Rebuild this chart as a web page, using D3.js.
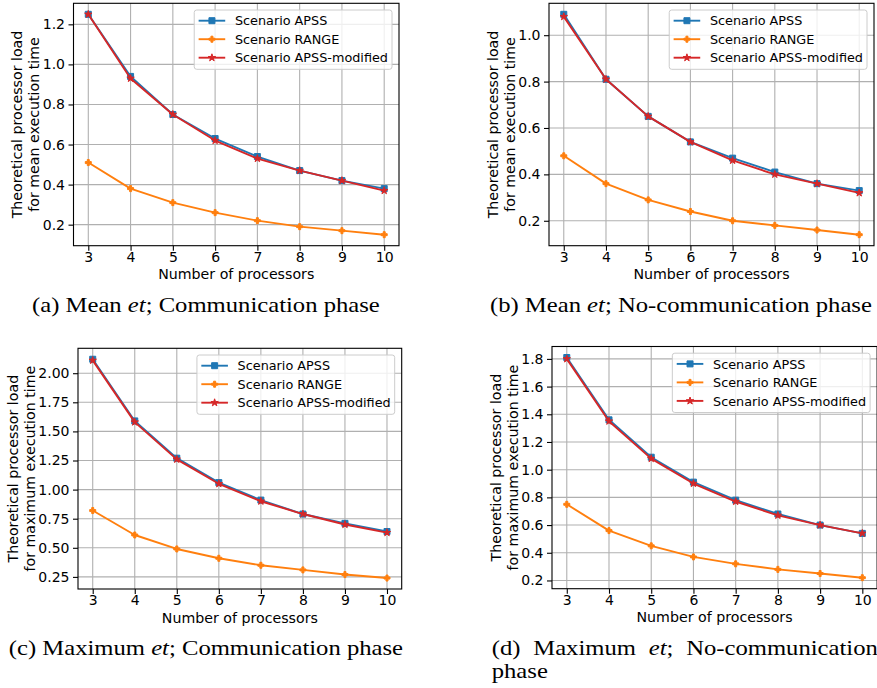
<!DOCTYPE html>
<html><head><meta charset="utf-8">
<script src="https://cdn.jsdelivr.net/npm/d3@7"></script>
<style>
body{margin:0;background:#fff}
svg{display:block}
.sans{font-family:"DejaVu Sans",sans-serif;fill:#000}
.serif{font-family:"Liberation Serif","DejaVu Serif",serif;fill:#000}
</style>
</head><body><svg id="c" width="877" height="688"></svg>
<script>
// ---------------- data ----------------
const processors = [3, 4, 5, 6, 7, 8, 9, 10];
const seriesNames = ["Scenario APSS", "Scenario RANGE", "Scenario APSS-modified"];

const meanCommAPSS     = [1.25, 0.94, 0.75, 0.63, 0.54, 0.47, 0.42, 0.38];
const meanCommRANGE    = [0.51, 0.38, 0.31, 0.26, 0.22, 0.19, 0.17, 0.15];
const meanCommModified = [1.25, 0.93, 0.75, 0.62, 0.53, 0.47, 0.42, 0.37];

const meanNoCommAPSS     = [1.09, 0.81, 0.65, 0.54, 0.47, 0.41, 0.36, 0.33];
const meanNoCommRANGE    = [0.48, 0.36, 0.29, 0.24, 0.20, 0.18, 0.16, 0.14];
const meanNoCommModified = [1.08, 0.81, 0.65, 0.54, 0.46, 0.40, 0.36, 0.32];

const maxCommAPSS     = [2.12, 1.59, 1.27, 1.06, 0.91, 0.79, 0.71, 0.64];
const maxCommRANGE    = [0.82, 0.61, 0.49, 0.41, 0.35, 0.31, 0.27, 0.24];
const maxCommModified = [2.11, 1.58, 1.26, 1.05, 0.90, 0.79, 0.70, 0.63];

const maxNoCommAPSS     = [1.81, 1.36, 1.09, 0.91, 0.78, 0.68, 0.60, 0.54];
const maxNoCommRANGE    = [0.75, 0.56, 0.45, 0.37, 0.32, 0.28, 0.25, 0.22];
const maxNoCommModified = [1.80, 1.35, 1.08, 0.90, 0.77, 0.67, 0.60, 0.54];

const yTicksA = [0.2, 0.4, 0.6, 0.8, 1.0, 1.2];
const yTicksB = [0.2, 0.4, 0.6, 0.8, 1.0];
const yTicksC = [0.25, 0.50, 0.75, 1.00, 1.25, 1.50, 1.75, 2.00];
const yTicksD = [0.2, 0.4, 0.6, 0.8, 1.0, 1.2, 1.4, 1.6, 1.8];

const xLabel = "Number of processors";
const yLabelLine1 = "Theoretical processor load";
const yLabelMean = "for mean execution time";
const yLabelMax = "for maximum execution time";

// ---------------- style / layout ----------------
const colors = ["#1f77b4", "#ff7f0e", "#d62728"];
const symbols = [
  d3.symbol().type(d3.symbolSquare).size(36),
  d3.symbol().type(d3.symbolCross).size(20),
  d3.symbol().type(d3.symbolStar).size(17)
];

const panels = [
  {series:[meanCommAPSS, meanCommRANGE, meanCommModified], yTicks:yTicksA, fmt:d3.format(".1f"),
   yl2:yLabelMean, box:{l:73.5, r:399, t:3.3, b:245.7},
   caption:[["(a) Mean ",false],["et",true],["; Communication phase",false]], cx:205.9, cy:311.5},
  {series:[meanNoCommAPSS, meanNoCommRANGE, meanNoCommModified], yTicks:yTicksB, fmt:d3.format(".1f"),
   yl2:yLabelMean, box:{l:549, r:874, t:3.3, b:245.7},
   caption:[["(b) Mean ",false],["et",true],["; No-communication phase",false]], cx:680.9, cy:311.5},
  {series:[maxCommAPSS, maxCommRANGE, maxCommModified], yTicks:yTicksC, fmt:d3.format(".2f"),
   yl2:yLabelMax, box:{l:78, r:401.7, t:348.3, b:589},
   caption:[["(c) Maximum ",false],["et",true],["; Communication phase",false]], cx:205.9, cy:655},
  {series:[maxNoCommAPSS, maxNoCommRANGE, maxNoCommModified], yTicks:yTicksD, fmt:d3.format(".1f"),
   yl2:yLabelMax, box:{l:552, r:877.1, t:346.5, b:588.7},
   justified:{x0:491.7, x1:878, y:655, words:[[["(d)",false]],[["Maximum",false]],[["et",true],[";",false]],[["No-communication",false]]], line2:"phase", y2:678.3}}
];

const svg = d3.select("#c");
const TICK_FS = 14, LABEL_FS = 14.2, LEG_FS = 12.8, CAP_FS = 20;

panels.forEach((p) => {
  const {l, r, t, b} = p.box;
  const g = svg.append("g");
  const x = d3.scaleLinear()
    .domain([processors[0] - 0.35, processors[processors.length - 1] + 0.35])
    .range([l, r]);
  const all = p.series.flat();
  const [mn, mx] = d3.extent(all);
  const pad = (mx - mn) * 0.05;
  const y = d3.scaleLinear().domain([mn - pad, mx + pad]).range([b, t]);

  // grid
  const grid = g.append("g").attr("stroke", "#b0b0b0").attr("stroke-width", 1.1);
  processors.forEach(v => grid.append("line").attr("x1", x(v)).attr("x2", x(v)).attr("y1", t).attr("y2", b));
  p.yTicks.forEach(v => grid.append("line").attr("x1", l).attr("x2", r).attr("y1", y(v)).attr("y2", y(v)));

  // series
  p.series.forEach((vals, i) => {
    const pts = vals.map((v, j) => [x(processors[j]), y(v)]);
    g.append("path").attr("d", d3.line()(pts)).attr("fill", "none")
      .attr("stroke", colors[i]).attr("stroke-width", 1.9).attr("stroke-linejoin", "round");
    g.append("g").selectAll("path").data(pts).join("path")
      .attr("transform", d => `translate(${d[0]},${d[1]})`)
      .attr("d", symbols[i]()).attr("fill", colors[i]).attr("stroke", colors[i]).attr("stroke-width", 1);
  });

  // spines
  g.append("rect").attr("x", l).attr("y", t).attr("width", r - l).attr("height", b - t)
    .attr("fill", "none").attr("stroke", "#000").attr("stroke-width", 1.1);

  // axes
  const xa = g.append("g").attr("transform", `translate(0,${b})`)
    .call(d3.axisBottom(x).tickValues(processors).tickFormat(d3.format("d")).tickSize(5).tickPadding(1.5));
  const ya = g.append("g").attr("transform", `translate(${l},0)`)
    .call(d3.axisLeft(y).tickValues(p.yTicks).tickFormat(p.fmt).tickSize(5).tickPadding(3.5));
  [xa, ya].forEach(a => {
    a.select(".domain").remove();
    a.selectAll("line").attr("stroke", "#000").attr("stroke-width", 1.1);
    a.selectAll("text").attr("class", "sans").attr("font-size", TICK_FS).attr("font-family", null).attr("fill", "#000");
  });

  // x label
  g.append("text").attr("class", "sans").attr("font-size", LABEL_FS)
    .attr("text-anchor", "middle").attr("x", (l + r) / 2).attr("y", b + 33.5).text(xLabel);

  // y label (two lines)
  const bb = ya.node().getBBox();
  const base2 = l + bb.x - 3.5;
  const cyL = (t + b) / 2;
  [[yLabelLine1, base2 - 17], [p.yl2, base2]].forEach(([txt, bx]) => {
    g.append("text").attr("class", "sans").attr("font-size", LABEL_FS).attr("text-anchor", "middle")
      .attr("transform", `translate(${bx},${cyL}) rotate(-90)`).text(txt);
  });

  // legend
  const lg = g.append("g");
  const tmp = lg.append("text").attr("class", "sans").attr("font-size", LEG_FS).text(seriesNames[2]);
  const tw = tmp.node().getComputedTextLength(); tmp.remove();
  const lw = tw + 40.7 + 4, lh = 59.3;
  const lx = r - 7 - lw, ly = t + 6.7;
  lg.append("rect").attr("x", lx).attr("y", ly).attr("width", lw).attr("height", lh).attr("rx", 2.5)
    .attr("fill", "#fff").attr("fill-opacity", 0.8).attr("stroke", "#cccccc").attr("stroke-width", 1);
  seriesNames.forEach((name, i) => {
    const ry = ly + 10.7 + i * 18.5;
    lg.append("line").attr("x1", lx + 4.4).attr("x2", lx + 31).attr("y1", ry).attr("y2", ry)
      .attr("stroke", colors[i]).attr("stroke-width", 1.9);
    lg.append("path").attr("transform", `translate(${lx + 17.7},${ry})`).attr("d", symbols[i]())
      .attr("fill", colors[i]).attr("stroke", colors[i]).attr("stroke-width", 1);
    lg.append("text").attr("class", "sans").attr("font-size", LEG_FS)
      .attr("x", lx + 40.7).attr("y", ry).attr("dy", "0.36em").text(name);
  });
});

// ---------------- captions ----------------
function makeText(parent, parts) {
  const t = parent.append("text").attr("class", "serif").attr("font-size", CAP_FS);
  parts.forEach(([s, it]) => t.append("tspan").attr("font-style", it ? "italic" : null).text(s));
  return t;
}
// horizontal stretch to mimic Computer Modern width
const probe = makeText(svg, panels[0].caption);
const sx = 348 / probe.node().getComputedTextLength();
probe.remove();

panels.forEach(p => {
  if (p.caption) {
    const g = svg.append("g").attr("transform", `translate(${p.cx},${p.cy}) scale(${sx},1)`);
    makeText(g, p.caption).attr("text-anchor", "middle");
  } else {
    const J = p.justified;
    const widths = J.words.map(w => {
      const tt = makeText(svg, w); const wd = tt.node().getComputedTextLength() * sx; tt.remove(); return wd;
    });
    const gap = (J.x1 - J.x0 - d3.sum(widths)) / (J.words.length - 1);
    let cur = J.x0;
    J.words.forEach((w, i) => {
      const g = svg.append("g").attr("transform", `translate(${cur},${J.y}) scale(${sx},1)`);
      makeText(g, w);
      cur += widths[i] + gap;
    });
    const g2 = svg.append("g").attr("transform", `translate(${J.x0},${J.y2}) scale(${sx},1)`);
    makeText(g2, [[J.line2, false]]);
  }
});
</script></body></html>
